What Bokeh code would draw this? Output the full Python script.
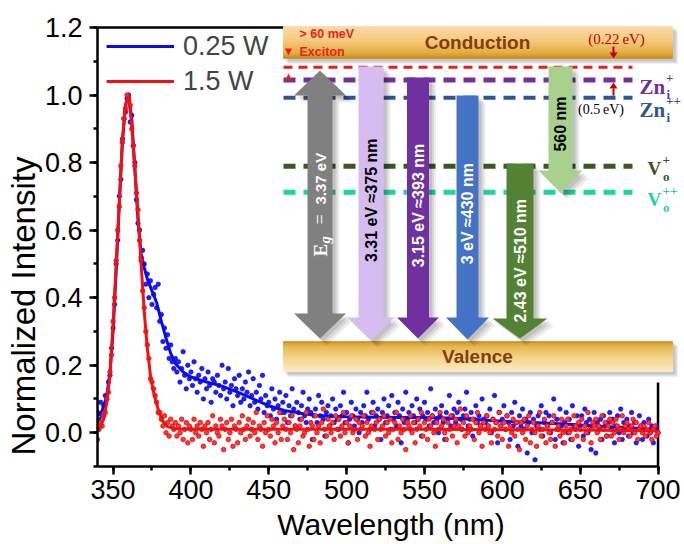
import numpy as np
from bokeh.plotting import figure
from bokeh.models import Range1d, SingleIntervalTicker, PrintfTickFormatter, Legend, LegendItem, Title
from bokeh.embed import file_html
from bokeh.resources import INLINE
from bokeh.core.properties import value

# ---------------- data ----------------
wavelength = list(range(340, 701))

blue_pts = [
 0.06,0.04,0.09,0.05,0.08,0.11,0.10,0.15,0.17,0.25,
 0.31,0.38,0.50,0.57,0.70,0.75,0.87,0.93,0.95,0.99,
 1.00,0.92,0.94,0.85,0.80,0.69,0.62,0.60,0.52,0.54,
 0.50,0.44,0.47,0.40,0.45,0.38,0.41,0.43,0.37,0.44,
 0.33,0.35,0.27,0.31,0.25,0.29,0.22,0.26,0.21,0.19,
 0.22,0.18,0.21,0.15,0.19,0.24,0.17,0.13,0.20,0.16,
 0.18,0.14,0.21,0.16,0.12,0.17,0.15,0.19,0.10,0.16,
 0.13,0.18,0.14,0.09,0.16,0.15,0.12,0.17,0.14,0.11,
 0.20,0.13,0.15,0.10,0.19,0.12,0.14,0.08,0.16,0.13,
 0.11,0.17,0.09,0.13,0.10,0.15,0.12,0.18,0.08,0.11,
 0.16,0.09,0.12,0.07,0.14,0.10,0.17,0.06,0.11,0.08,
 0.09,0.05,0.13,0.07,0.10,0.04,0.08,0.12,0.06,0.09,
 0.06,0.11,0.03,0.08,0.05,0.13,0.07,0.02,0.09,0.06,
 0.04,0.08,0.12,0.05,0.03,0.07,0.10,0.06,-0.02,0.05,
 0.07,0.03,0.11,0.05,0.09,0.04,-0.01,0.06,0.08,0.02,
 0.05,0.10,0.03,0.07,0.04,0.01,0.08,0.05,0.12,0.03,
 0.06,-0.03,0.04,0.09,0.05,0.02,0.07,0.04,0.00,0.06,
 0.03,0.08,0.05,0.12,0.04,0.01,0.06,0.09,0.02,0.05,
 0.07,0.04,-0.02,0.06,0.10,0.03,0.05,0.08,0.01,0.11,
 0.04,0.06,0.02,0.09,0.05,-0.03,0.07,0.03,0.12,0.04,
 0.06,0.01,0.08,0.05,0.03,0.10,0.04,0.07,-0.01,0.05,
 0.09,0.04,0.06,0.02,0.13,0.05,0.03,0.07,0.04,0.00,
 0.05,0.08,0.03,-0.02,0.06,0.04,0.11,0.02,0.05,0.07,
 0.03,0.06,0.09,0.04,0.01,0.05,0.07,0.12,0.02,0.04,
 0.06,-0.01,0.04,0.08,0.03,0.05,0.02,0.10,0.04,0.03,
 0.05,0.02,0.07,0.00,0.04,0.11,0.03,-0.03,0.06,0.02,
 0.04,0.08,0.01,0.05,0.03,-0.02,0.06,0.02,0.09,0.03,
 -0.04,0.05,0.02,0.07,0.01,0.04,-0.06,0.03,0.06,0.00,
 0.04,-0.08,0.02,0.05,0.01,0.08,-0.01,0.03,0.06,0.02,
 0.05,0.00,0.03,0.10,-0.02,0.04,0.01,0.07,0.02,-0.03,
 0.03,0.06,0.00,0.04,-0.02,0.08,0.02,0.01,0.05,-0.04,
 0.02,0.05,-0.01,0.07,0.03,0.00,0.04,-0.05,0.02,0.06,
 -0.06,0.03,0.01,0.04,-0.02,0.05,0.02,-0.01,0.03,0.06,
 0.01,0.04,-0.03,0.02,0.05,0.00,0.07,-0.02,0.03,0.01,
 0.04,-0.01,0.02,0.06,0.00,0.03,-0.03,0.01,0.05,0.02,
 -0.02,0.03,0.01,-0.01,0.04,0.00,0.02,-0.03,0.01,0.02,
 0.00]

red_pts = [
 -0.02,0.01,0.03,0.02,0.05,0.06,0.10,0.12,0.18,0.23,
 0.33,0.40,0.51,0.60,0.67,0.79,0.86,0.93,0.96,1.00,
 0.99,0.97,0.90,0.85,0.79,0.71,0.66,0.57,0.51,0.42,
 0.37,0.30,0.26,0.22,0.16,0.15,0.13,0.11,0.09,0.06,
 0.06,0.04,0.02,0.05,0.00,0.03,-0.01,0.04,0.02,0.01,
 0.03,-0.01,0.02,0.00,0.04,-0.02,0.01,0.03,-0.03,0.02,
 0.01,-0.02,0.04,0.00,0.02,-0.01,0.03,0.01,-0.04,0.02,
 0.00,0.03,-0.02,0.01,0.05,-0.03,0.02,0.00,-0.01,0.04,
 0.02,-0.05,0.01,0.03,-0.02,0.00,0.04,-0.04,0.02,0.01,
 -0.03,0.03,0.00,0.05,0.01,-0.02,0.02,0.04,-0.01,0.01,
 0.03,0.00,0.06,-0.02,0.02,0.01,-0.04,0.03,0.00,0.05,
 0.01,-0.01,0.04,0.02,-0.03,0.03,0.00,0.06,-0.02,0.02,
 0.04,0.01,-0.02,0.03,0.00,0.05,-0.05,0.02,0.01,-0.03,
 0.02,0.04,-0.01,0.00,0.06,0.01,-0.04,0.03,0.02,-0.02,
 0.05,0.00,0.02,-0.03,0.03,0.07,0.01,-0.01,0.04,0.02,
 0.00,0.03,-0.02,0.05,0.01,0.04,-0.01,0.02,0.06,0.00,
 0.03,-0.03,0.02,0.05,0.00,0.01,0.04,-0.02,0.03,0.01,
 0.02,0.05,-0.01,0.03,0.00,-0.04,0.02,0.06,0.01,0.03,
 -0.02,0.04,0.01,0.02,0.05,-0.01,0.03,0.00,0.04,-0.03,
 0.01,0.03,0.06,-0.02,0.02,0.00,0.04,0.01,-0.05,0.03,
 0.02,0.05,0.00,0.03,-0.03,0.01,0.04,0.02,0.06,-0.01,
 0.03,0.01,-0.02,0.04,0.02,0.05,0.00,-0.04,0.03,0.01,
 0.06,0.02,0.04,0.00,-0.02,0.03,0.01,0.05,-0.01,0.02,
 0.04,-0.03,0.02,0.07,0.01,0.03,-0.01,0.05,0.00,0.02,
 0.01,0.04,-0.02,0.03,0.06,0.00,0.02,-0.04,0.03,0.01,
 0.05,0.02,0.00,-0.03,0.04,0.01,0.03,-0.01,0.06,0.02,
 -0.02,0.03,0.01,0.05,-0.04,0.02,0.00,0.04,-0.01,0.03,
 0.01,-0.05,0.03,0.00,0.04,-0.02,0.02,0.05,-0.03,0.01,
 0.03,0.00,-0.04,0.02,0.06,-0.01,0.01,0.04,-0.03,0.02,
 0.00,-0.02,0.03,0.05,-0.04,0.01,0.02,-0.01,0.04,0.00,
 -0.03,0.02,0.04,0.00,0.01,-0.02,0.05,0.02,-0.01,0.03,
 0.01,0.04,-0.02,0.02,0.00,0.06,0.01,-0.03,0.03,0.02,
 0.04,0.00,0.02,-0.02,0.05,0.01,0.03,-0.01,0.02,0.04,
 -0.01,0.03,0.00,0.04,0.02,-0.02,0.01,0.05,0.00,0.02,
 0.03,0.01,-0.01,0.02,0.04,0.00,0.03,-0.02,0.01,0.02,
 0.00,0.02,-0.01,0.01,0.03,0.00,-0.02,0.01,0.02,-0.01,
 0.00]

blue_fit_x = [340,343,346,348,350,352,354,356,358,360,362,364,366,368,370,372,375,378,381,384,
              387,390,395,400,410,420,430,440,450,460,470,480,490,500,520,540,560,580,600,620,
              640,660,680,700]
blue_fit_y = [0.05,0.065,0.11,0.18,0.30,0.48,0.68,0.86,0.97,1.0,0.93,0.78,0.63,0.53,0.49,0.455,0.42,
              0.385,0.33,0.28,0.235,0.205,0.18,0.165,0.15,0.138,0.12,0.10,0.08,0.066,0.058,0.052,
              0.049,0.047,0.046,0.045,0.044,0.04,0.034,0.03,0.026,0.02,0.015,0.01]
red_fit_x = [340,342,344,346,348,350,352,354,356,358,360,362,364,366,368,370,372,374,376,378,380,
             382,385,390,400,450,500,550,600,650,700]
red_fit_y = [0.005,0.02,0.04,0.09,0.17,0.32,0.50,0.68,0.87,0.97,1.0,0.91,0.78,0.65,0.50,0.36,0.25,
             0.17,0.12,0.085,0.055,0.033,0.018,0.012,0.01,0.01,0.01,0.01,0.009,0.008,0.005]

series_labels = ["0.25 W", "1.5 W"]
assert len(blue_pts) == len(wavelength) == len(red_pts)

# ---------------- inset schematic (in reference-pixel units) ----------------
levels = [  # (y, color, width, dash)
    (66.7, "#f01a1a", 3, "9 6"),
    (79.5, "#7030a0", 5, "12 8"),
    (97.3, "#2f5597", 4, "12 8"),
    (165.7, "#385723", 5, "12 8"),
    (191.7, "#1fd3a2", 5, "12 8"),
]
arrows = [  # (cx, shaft half, top, tip, head half, head len, color, double, label, text color, label y)
    (370.5, 12.5, 66, 340, 23.5, 23, "#d6bcf0", False, "3.31 eV  \u2248375 nm", "black", 197.5),
    (417.5, 11.0, 77, 338, 21.0, 21, "#7030a0", False, "3.15 eV \u2248393 nm", "white", 205),
    (467.0, 11.0, 95, 339, 21.5, 22, "#4472c4", False, "3 eV  \u2248430 nm", "white", 211),
    (519.5, 13.5, 163, 338, 27.5, 20, "#548235", False, "2.43 eV  \u2248510 nm", "white", 258),
    (560.0, 12.0, 66, 192, 22.0, 22, "#a9d18e", False, "560 nm", "black", 123.5),
]
eg_arrow = (319.5, 12.5, 70, 338, 26, 25, "#808080")

W, H = 684, 544
p = figure(width=W, height=H, output_backend="svg", toolbar_location=None,
           x_range=Range1d(340, 717), y_range=Range1d(-0.1, 1.2059),
           min_border_left=97, min_border_right=0, min_border_top=25, min_border_bottom=78)
p.extra_x_ranges = {"px": Range1d(97, 684)}
p.extra_y_ranges = {"py": Range1d(466, 25)}
p.outline_line_color = None
p.background_fill_color = "white"
p.grid.visible = False

SANS = "Liberation Sans"
SERIF = "Liberation Serif"
for ax in (p.xaxis[0], p.yaxis[0]):
    ax.axis_line_width = 2.5
    ax.axis_line_color = "black"
    ax.major_tick_line_width = 2.5
    ax.minor_tick_line_width = 2.5
    ax.major_tick_in = 0
    ax.major_tick_out = 8
    ax.minor_tick_in = 0
    ax.minor_tick_out = 4
    ax.major_label_text_font = SANS
    ax.major_label_text_font_size = "27px"
    ax.major_label_text_color = "black"
    ax.axis_label_text_font = SANS
    ax.axis_label_text_font_style = "normal"
    ax.axis_label_text_color = "black"

p.xaxis[0].ticker = SingleIntervalTicker(interval=50, num_minor_ticks=2)
p.xaxis[0].bounds = (340, 700)
p.xaxis[0].axis_label = "Wavelength (nm)"
p.xaxis[0].axis_label_text_font_size = "30px"
p.xaxis[0].axis_label_standoff = 6
p.xaxis[0].major_label_standoff = 5

p.yaxis[0].ticker = SingleIntervalTicker(interval=0.2, num_minor_ticks=2)
p.yaxis[0].formatter = PrintfTickFormatter(format="%.1f")
p.yaxis[0].bounds = (-0.1, 1.2003)
p.yaxis[0].major_label_standoff = 7

# y-axis title as a side title (lets it sit lower than the frame centre, like the reference)
p.add_layout(Title(text="Normalized Intensity", align="left", offset=11, standoff=0,
                   vertical_align="bottom", text_font=SANS, text_font_size="33px",
                   text_font_style="normal", text_color="black"), "left")

# frame lines (top and right)
p.segment(x0=[340], y0=[1.2], x1=[700], y1=[1.2], line_color="black", line_width=2.5)
p.segment(x0=[700], y0=[-0.1], x1=[700], y1=[1.2], line_color="black", line_width=2.5)

# data
p.scatter(wavelength, blue_pts, size=4.5, fill_color="#2020ff", line_color="#0000c8", line_width=0.6)
bl = p.line(blue_fit_x, blue_fit_y, line_color="#0a0af0", line_width=3)
p.scatter(wavelength, red_pts, size=4.5, fill_color="#ff3a3a", line_color="#e40000", line_width=0.8)
rl = p.line(red_fit_x, red_fit_y, line_color="#f41010", line_width=3)

legend = Legend(items=[LegendItem(label=series_labels[0], renderers=[bl]),
                       LegendItem(label=series_labels[1], renderers=[rl])],
                location=(9, 369), margin=0, padding=0, spacing=3,
                glyph_width=68, glyph_height=32, label_height=32, label_standoff=9,
                label_text_font=SANS, label_text_font_size="27px",
                background_fill_alpha=0, border_line_color=None)
p.add_layout(legend)

# ---------------- inset ----------------
PX = dict(x_range_name="px", y_range_name="py")

def hexrgb(h):
    h = h.lstrip("#")
    return np.array([int(h[i:i + 2], 16) for i in (0, 2, 4)], dtype=float)

def grad(stops, n):
    pos = np.array([s[0] for s in stops])
    cols = np.array([hexrgb(s[1]) for s in stops])
    out = []
    for t in (np.arange(n) + 0.5) / n:
        c = [np.interp(t, pos, cols[:, k]) for k in range(3)]
        out.append("#%02x%02x%02x" % tuple(int(round(v)) for v in c))
    return out

p.quad(left=[283], right=[684], top=[18], bottom=[382], fill_color="white", line_color=None, **PX)

def band(ytop, ybot, stops, label):
    p.quad(left=[287], right=[677], top=[ytop + 4], bottom=[ybot + 5], fill_color="black",
           fill_alpha=0.13, line_color=None, **PX)
    p.quad(left=[285], right=[675], top=[ytop + 2], bottom=[ybot + 3], fill_color="black",
           fill_alpha=0.10, line_color=None, **PX)
    n = 18
    edges = np.linspace(ytop, ybot, n + 1)
    cols = grad(stops, n)
    p.quad(left=[283] * n, right=[672] * n, top=list(edges[:-1]), bottom=list(edges[1:]),
           fill_color=cols, line_color=cols, line_width=0.8, **PX)
    p.text(x=[477], y=[(ytop + ybot) / 2], text=[label], text_font=value(SANS),
           text_font_style="bold", text_font_size="19px", text_color="#843c0c",
           text_align="center", text_baseline="middle", **PX)

band(26, 58, [(0, "#fbdcaa"), (0.45, "#f6ca7e"), (0.85, "#e2ac3e"), (1, "#c48c1c")], "Conduction")
band(341, 371, [(0, "#c89220"), (0.2, "#e9b850"), (0.55, "#f6d48a"), (1, "#fdebc2")], "Valence")

for y, c, w, d in levels:
    p.line(x=[283, 632], y=[y, y], line_color=c, line_width=w, line_dash=d, **PX)

def arrow_poly(cx, w, y0, y1, hw, hl, double):
    if double:
        xs = [cx, cx + hw, cx + w, cx + w, cx + hw, cx, cx - hw, cx - w, cx - w, cx - hw]
        ys = [y0, y0 + hl, y0 + hl, y1 - hl, y1 - hl, y1, y1 - hl, y1 - hl, y0 + hl, y0 + hl]
    else:
        xs = [cx - w, cx + w, cx + w, cx + hw, cx, cx - hw, cx - w]
        ys = [y0, y0, y1 - hl, y1 - hl, y1, y1 - hl, y1 - hl]
    return xs, ys

all_arrows = [(eg_arrow[0], eg_arrow[1], eg_arrow[2], eg_arrow[3], eg_arrow[4], eg_arrow[5], eg_arrow[6], True)]
all_arrows += [(a[0], a[1], a[2], a[3], a[4], a[5], a[6], a[7]) for a in arrows]
polys = [arrow_poly(a[0], a[1], a[2], a[3], a[4], a[5], a[7]) for a in all_arrows]
for off, alpha in ((7, 0.07), (5, 0.09), (3, 0.10)):
    p.patches(xs=[[x + off for x in xs] for xs, ys in polys], ys=[[y + off for y in ys] for xs, ys in polys],
              fill_color="black", fill_alpha=alpha, line_color=None, **PX)
p.patches(xs=[xs for xs, ys in polys], ys=[ys for xs, ys in polys],
          fill_color=[a[6] for a in all_arrows], line_color=None, **PX)

for a in arrows:
    p.text(x=[a[0]], y=[a[10]], text=[a[8]], angle=np.pi / 2, text_font=value(SANS),
           text_font_style="bold", text_font_size="16px", text_color=a[9],
           text_align="center", text_baseline="middle", **PX)

# E_g label on the band-gap arrow
p.text(x=[319.5], y=[256], text=["E"], angle=np.pi / 2, text_font=value(SERIF), text_font_style="bold",
       text_font_size="19px", text_color="white", text_align="left", text_baseline="middle", **PX)
p.text(x=[324], y=[243], text=["g"], angle=np.pi / 2, text_font=value(SERIF), text_font_style="bold italic",
       text_font_size="15px", text_color="white", text_align="left", text_baseline="middle", **PX)
p.text(x=[319.5], y=[224], text=["="], angle=np.pi / 2, text_font=value(SERIF),
       text_font_size="18px", text_color="white", text_align="left", text_baseline="middle", **PX)
p.text(x=[319.5], y=[204], text=["3.37 eV"], angle=np.pi / 2, text_font=value(SANS), text_font_style="bold",
       text_font_size="15px", text_color="white", text_align="left", text_baseline="middle", **PX)

# exciton markers
p.text(x=[299, 299], y=[33, 51], text=["> 60 meV", "Exciton"], text_font=value(SANS), text_font_style="bold",
       text_font_size="12.5px", text_color="#ee1c1c", text_align="left", text_baseline="middle", **PX)
p.patches(xs=[[284.5, 291.5, 288], [284.5, 291.5, 288]], ys=[[48, 48, 55], [80, 80, 73]],
          fill_color="#ee1c1c", line_color=None, **PX)

# 0.22 eV / 0.5 eV markers
p.text(x=[616], y=[38.5], text=["(0.22\u2009eV)"], text_font=value(SERIF), text_font_size="15px",
       text_color="#c00000", text_align="center", text_baseline="middle", **PX)
p.segment(x0=[613, 613], y0=[46, 88], x1=[613, 613], y1=[53, 95], line_color="#c00000", line_width=2, **PX)
p.patches(xs=[[609, 617, 613], [609, 617, 613]], ys=[[52, 52, 58], [88, 88, 82]],
          fill_color="#c00000", line_color=None, **PX)
p.text(x=[600.5], y=[109], text=["(0.5\u2009eV)"], text_font=value(SERIF), text_font_size="14px",
       text_color="black", text_align="center", text_baseline="middle", **PX)

# defect level labels
def defect_label(x_main, base, main, size, sup, sub, color, x_small):
    p.text(x=[x_main], y=[base], text=[main], text_font=value(SERIF), text_font_style="bold",
           text_font_size=size, text_color=color, text_align="left", text_baseline="alphabetic", **PX)
    p.text(x=[x_small], y=[base - 9], text=[sup], text_font=value(SERIF), text_font_style="bold",
           text_font_size="13px", text_color=color, text_align="left", text_baseline="alphabetic", **PX)
    p.text(x=[x_small + 0.5], y=[base + 8], text=[sub], text_font=value(SERIF), text_font_style="bold",
           text_font_size="13px", text_color=color, text_align="left", text_baseline="alphabetic", **PX)

defect_label(639, 86, "Zn", "21px", "+", "i", "#7030a0", 665.5)
defect_label(639, 109, "Zn", "21px", "++", "i", "#2f5597", 665.5)
defect_label(647, 168, "V", "19px", "+", "o", "#385723", 662)
defect_label(647, 199, "V", "19px", "++", "o", "#1fd3a2", 662)

open("out.html", "w").write(file_html(p, INLINE))
